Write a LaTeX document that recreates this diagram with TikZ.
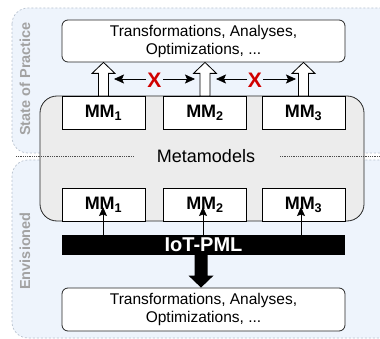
\documentclass[tikz,border=0pt]{standalone}
\usepackage{fontspec}
\setmainfont{Liberation Sans}
\usetikzlibrary{arrows.meta,calc}

\definecolor{regionfill}{HTML}{EEF4FC}
\definecolor{regionline}{HTML}{B8C2CF}
\definecolor{mmgrey}{HTML}{ECECEC}
\definecolor{labelgrey}{HTML}{A2A2A2}
\definecolor{crossred}{HTML}{D00000}

\tikzset{
  region/.style={draw=regionline, dash pattern=on 2pt off 2pt, fill=regionfill, rounded corners=16pt, line width=0.7pt},
  taskbox/.style={draw=black!85, fill=white, rounded corners=6pt, line width=0.8pt,
    minimum width=283pt, align=center, font=\fontsize{15.5}{18}\selectfont, inner sep=0pt},
  mmbox/.style={draw=black, fill=white, line width=0.8pt, minimum width=83pt, minimum height=33pt,
    inner sep=0pt, font=\fontsize{18}{20}\bfseries},
  phaselabel/.style={rotate=90, text=labelgrey, font=\fontsize{14.5}{16}\selectfont\bfseries},
  linkarrow/.style={line width=0.7pt, {Stealth[length=10pt,width=9pt,inset=2pt]}-{Stealth[length=10pt,width=9pt,inset=2pt]}},
  feedarrow/.style={line width=0.7pt, -{Stealth[length=9pt,width=8pt,inset=1.5pt]}},
  cross/.style={text=crossred, font=\fontsize{21}{21}\selectfont\bfseries, inner sep=0pt},
  hollow/.style={draw=black, fill=white, line width=0.8pt, line join=miter},
  sepline/.style={densely dotted, draw=black!70, line width=0.8pt}
}

% vertical block arrow pointing up: #1 tail point, #2 tip point
\newcommand\uparrowblock[2]{%
  \draw[hollow] let \p1=(#1), \p2=(#2) in
    (\x1-5pt,\y1) -- (\x1-5pt,\y2-11pt) -- (\x1-11.5pt,\y2-11pt) -- (\x1,\y2)
    -- (\x1+11.5pt,\y2-11pt) -- (\x1+5pt,\y2-11pt) -- (\x1+5pt,\y1) -- cycle;}

\begin{document}
\begin{tikzpicture}[x=1pt,y=-1pt]
  \useasboundingbox (0,0) rectangle (380,339);
  \begin{scope}
    \clip (0,0) rectangle (380,339);
    % the two phase regions
    \path[region] (12,8) rectangle (430,153);
    \path[region] (12,160) rectangle (430,338);
  \end{scope}

  \node[phaselabel] (sop) at (25,79) {State of Practice};
  \node[phaselabel] (env) at (25,251) {Envisioned};

  % metamodel container
  \node[draw=black!85, fill=mmgrey, rounded corners=17pt, line width=0.8pt,
        minimum width=324pt, minimum height=125pt] (meta) at (202,158.5) {};

  % separator through the container
  \coordinate (sepA) at (16,156);
  \coordinate (sepB) at (134,156);
  \coordinate (sepC) at (280,156);
  \coordinate (sepD) at (380,156);
  \draw[sepline] (sepA) -- (sepB);
  \draw[sepline] (sepC) -- (sepD);
  \node[font=\fontsize{18}{20}\selectfont] (metalabel) at (206,156) {Metamodels};

  % upper task box and metamodels
  \node[taskbox, minimum height=42pt] (tasks) at (203.5,41)
    {Transformations, Analyses,\\Optimizations, ...};
  \node[mmbox] (mA) at (103.5,113) {MM\textsubscript{1}};
  \node[mmbox] (mB) at (205,113) {MM\textsubscript{2}};
  \node[mmbox] (mC) at (303.5,113) {MM\textsubscript{3}};

  \uparrowblock{mA.north}{mA.north |- tasks.south}
  \uparrowblock{mB.north}{mB.north |- tasks.south}
  \uparrowblock{mC.north}{mC.north |- tasks.south}

  % no interoperability between the separate chains
  \coordinate (lA) at (114,79);
  \coordinate (lB) at (195,79);
  \coordinate (lC) at (216,79);
  \coordinate (lD) at (296,79);
  \draw[linkarrow] (lA) -- (lB);
  \draw[linkarrow] (lC) -- (lD);
  \node[cross, fill=regionfill, inner xsep=1pt] (xA) at (154.5,80) {X};
  \node[cross, fill=regionfill, inner xsep=1pt] (xB) at (255,80) {X};

  % lower metamodels
  \node[mmbox] (nA) at (103.5,204.5) {MM\textsubscript{1}};
  \node[mmbox] (nB) at (205,204.5) {MM\textsubscript{2}};
  \node[mmbox] (nC) at (303.5,204.5) {MM\textsubscript{3}};

  % common modeling language
  \node[fill=black, text=white, minimum width=283pt, minimum height=20pt, inner sep=0pt,
        font=\fontsize{20}{20}\selectfont\bfseries] (pml) at (203.5,245) {IoT-PML};

  \coordinate (tA) at (103,207);
  \coordinate (tB) at (203,207);
  \coordinate (tC) at (301,207);
  \draw[feedarrow] (tA |- pml.north) -- (tA);
  \draw[feedarrow] (tB |- pml.north) -- (tB);
  \draw[feedarrow] (tC |- pml.north) -- (tC);

  \node[taskbox, minimum height=43pt] (tasks2) at (203.5,309.5)
    {Transformations, Analyses,\\Optimizations, ...};

  % thick arrow from the language to the tasks
  \fill[black] let \p1=($(pml.south)+(-2.5,0)$), \p2=($(tasks2.north)+(-2.5,0)$) in
    (\x1-6.5pt,\y1) -- (\x1-6.5pt,\y2+12pt) -- (\x1-12.5pt,\y2+12pt) -- (\x1,\y2)
    -- (\x1+12.5pt,\y2+12pt) -- (\x1+6.5pt,\y2+12pt) -- (\x1+6.5pt,\y1) -- cycle;
\end{tikzpicture}
\end{document}
